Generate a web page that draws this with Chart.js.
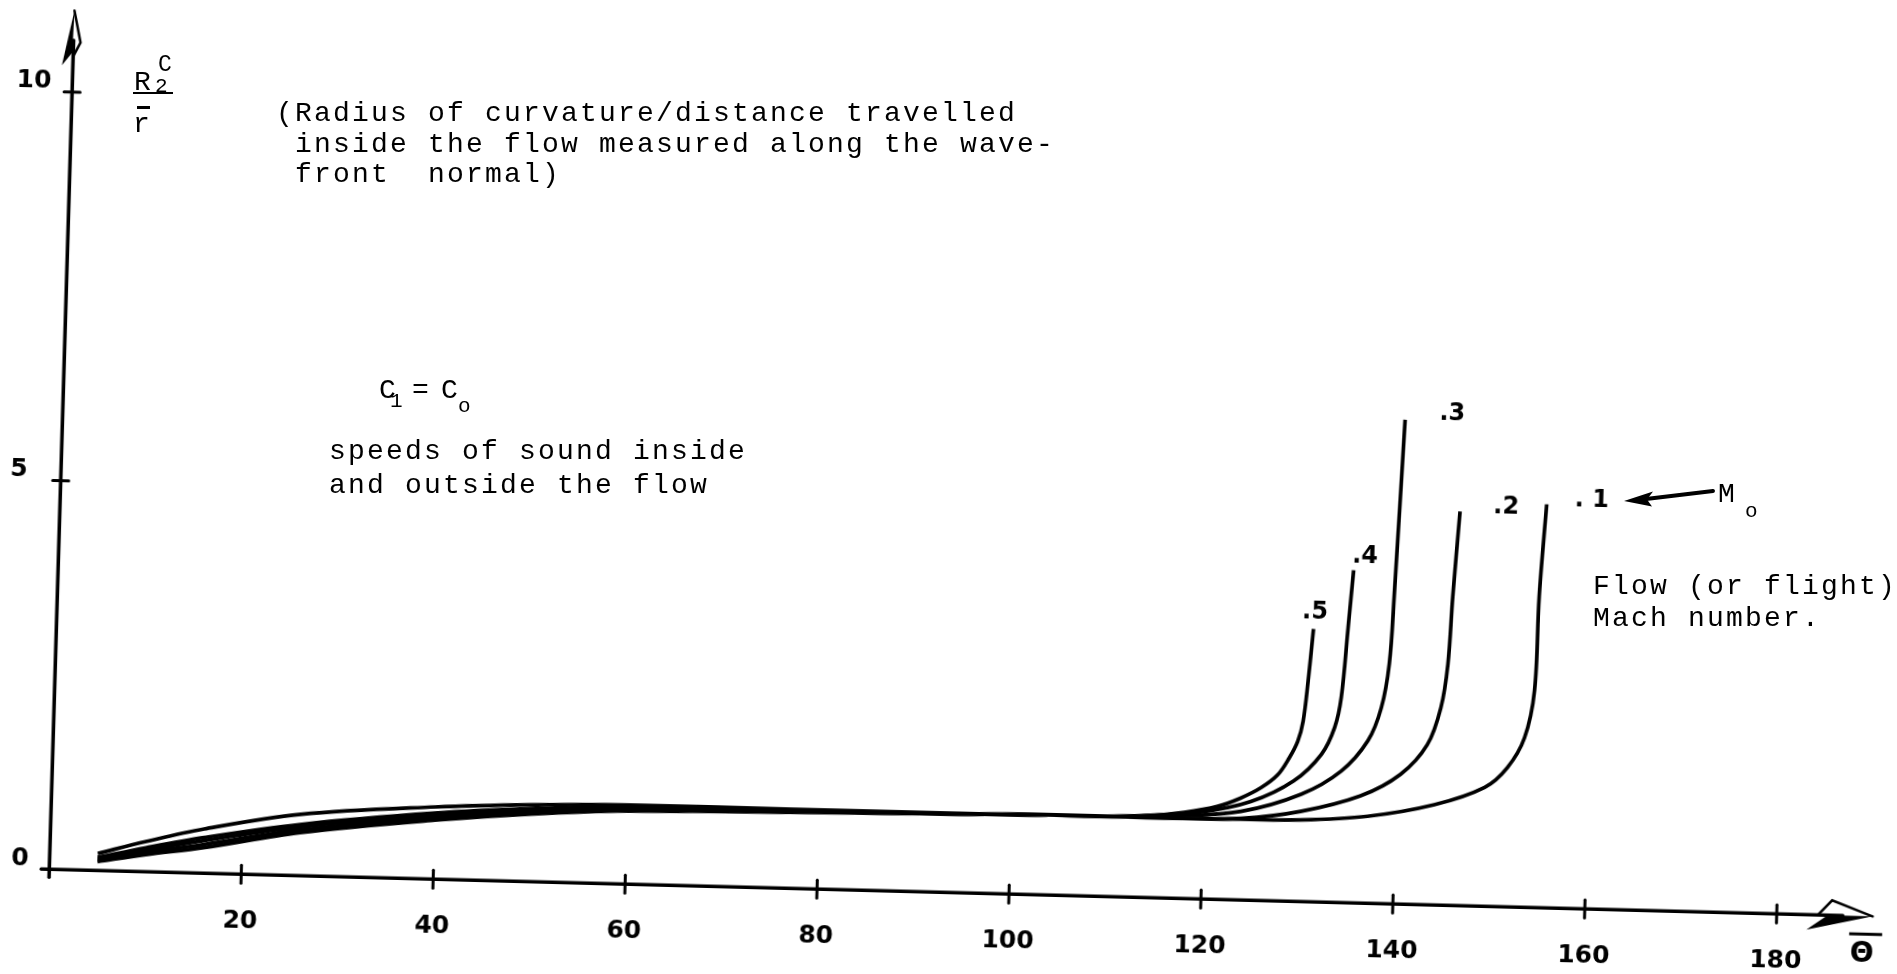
<!DOCTYPE html>
<html>
<head>
<meta charset="utf-8">
<title>Radius of curvature ratio against wavefront angle</title>
<script src="https://cdn.jsdelivr.net/npm/chart.js@4.4.1/dist/chart.umd.min.js"></script>
<style>
  html, body { margin: 0; padding: 0; background: #fff; overflow: hidden; }
  #page { position: relative; width: 1897px; height: 974px; background: #fff; overflow: hidden; }
  /* the hand-drawn axes sit slightly askew on the sheet */
  #plot { position: absolute; left: -60px; top: 0; width: 1957px; height: 974px;
          transform-origin: 109.3px 869.3px;
          transform: matrix(0.99967, 0.02583, -0.02932, 0.99957, 0, 0); }
  .tw { position: absolute; font-family: "Liberation Mono", monospace; font-size: 28px;
        line-height: 28px; letter-spacing: 2.2px; white-space: pre; color: #000; }
  .tw23 { position: absolute; font-family: "Liberation Mono", monospace; font-size: 23px;
          line-height: 23px; white-space: pre; color: #000; }
  .tw21 { position: absolute; font-family: "Liberation Mono", monospace; font-size: 21px;
          line-height: 21px; white-space: pre; color: #000; }
  .rule { position: absolute; background: #000; }
  svg { position: absolute; left: 0; top: 0; }
</style>
</head>
<body>
<div id="page">
  <canvas id="plot" width="1957" height="974"></canvas>

  <!-- y-axis quantity: R2^C over r-bar -->
  <div class="tw" style="left:134px; top:68.5px;">R</div>
  <div class="tw21" style="left:155px; top:75.9px;">2</div>
  <div class="tw23" style="left:158px; top:54.4px;">C</div>
  <div class="rule" style="left:133px; top:91.5px; width:40px; height:2.5px;"></div>
  <div class="rule" style="left:137px; top:105.5px; width:13px; height:3px;"></div>
  <div class="tw" style="left:133px; top:110.5px;">r</div>

  <div class="tw" style="left:276px; top:99.5px;">(Radius of curvature/distance travelled</div>
  <div class="tw" style="left:276px; top:130.5px;"> inside the flow measured along the wave-</div>
  <div class="tw" style="left:276px; top:160.5px;"> front  normal)</div>

  <div class="tw" style="left:379px; top:376.5px;">C</div>
  <div class="tw21" style="left:390px; top:391px;">1</div>
  <div class="tw" style="left:412px; top:376.5px;">=</div>
  <div class="tw" style="left:441px; top:376.5px;">C</div>
  <div class="tw21" style="left:458px; top:396px;">o</div>

  <div class="tw" style="left:329px; top:437.5px;">speeds of sound inside</div>
  <div class="tw" style="left:329px; top:471.5px;">and outside the flow</div>

  <div class="tw" style="left:1718px; top:480.5px;">M</div>
  <div class="tw21" style="left:1745px; top:501px;">o</div>
  <svg width="1897" height="974">
    <line x1="1713" y1="491" x2="1646" y2="499" stroke="#000" stroke-width="4" stroke-linecap="round"/>
    <polygon points="1624,501 1653,491.5 1647,499.5 1652,506.5" fill="#000"/>
  </svg>

  <div class="tw" style="left:1593px; top:572.5px;">Flow (or flight)</div>
  <div class="tw" style="left:1593px; top:604.5px;">Mach number.</div>
</div>

<script>
// Tick positions
const xTickValues = [20, 40, 60, 80, 100, 120, 140, 160, 180];
const yTickValues = [0, 5, 10];

// Flow Mach number labels
const machLabels = ['. 1', '.2', '.3', '.4', '.5'];

// Theta (degrees) and R2C / r-bar for each Mach number
const thetaM1 = [5, 10, 16, 26, 40, 50, 60, 77, 94, 104, 112, 118, 123.9, 130.1, 137.1, 144.0, 149.2, 151.5, 153.2, 154.1, 154.3, 154.8];
const ratioM1 = [0.115, 0.22, 0.33, 0.555, 0.76, 0.87, 0.94, 0.98, 1.01, 1.03, 1.03, 1.03, 1.04, 1.05, 1.12, 1.29, 1.53, 1.79, 2.18, 2.79, 4.00, 5.19];

const thetaM2 = [5, 10, 16, 26, 40, 50, 60, 77, 94, 104, 112, 118, 123.9, 130.1, 136.3, 140.4, 143.1, 144.4, 145.0, 145.3, 145.8];
const ratioM2 = [0.13, 0.25, 0.37, 0.59, 0.79, 0.90, 0.96, 0.99, 1.01, 1.03, 1.03, 1.03, 1.05, 1.16, 1.38, 1.67, 2.06, 2.54, 3.10, 3.97, 5.07];

const thetaM3 = [5, 10, 16, 26, 40, 50, 60, 77, 94, 104, 112, 117, 123.9, 130.1, 134.2, 136.9, 138.2, 138.9, 139.2, 139.8];
const ratioM3 = [0.15, 0.28, 0.42, 0.63, 0.82, 0.92, 0.98, 1.00, 1.01, 1.03, 1.03, 1.06, 1.14, 1.38, 1.69, 2.09, 2.52, 3.09, 3.95, 6.23];

const thetaM4 = [5, 10, 16, 26, 40, 50, 60, 77, 94, 104, 112, 119.7, 124.9, 129.3, 132.1, 133.4, 134.0, 134.5, 134.9];
const ratioM4 = [0.17, 0.31, 0.46, 0.66, 0.85, 0.94, 1.00, 1.01, 1.02, 1.03, 1.04, 1.12, 1.27, 1.55, 1.90, 2.25, 2.64, 3.54, 4.28];

const thetaM5 = [5, 10, 16, 26, 40, 50, 60, 77, 94, 104, 109.3, 114.5, 118.0, 121.4, 123.8, 125.9, 127.6, 128.75, 129.6, 130.1, 130.5, 130.9];
const ratioM5 = [0.22, 0.39, 0.57, 0.79, 0.93, 0.99, 1.02, 1.02, 1.02, 1.03, 1.03, 1.06, 1.11, 1.195, 1.31, 1.45, 1.62, 1.84, 2.06, 2.32, 2.84, 3.51];

const thetaSets = [thetaM1, thetaM2, thetaM3, thetaM4, thetaM5];
const ratioSets = [ratioM1, ratioM2, ratioM3, ratioM4, ratioM5];

// where each Mach label sits relative to the top of its curve (px)
const labelOffsets = [[45, -5], [46, -5], [47, -7], [11, -14], [1, -17]];

const datasets = thetaSets.map((thetas, i) => ({
  label: machLabels[i],
  data: thetas.map((t, j) => ({ x: t, y: ratioSets[i][j] })),
  borderColor: '#000',
  borderWidth: 3.7,
  pointRadius: 0,
  tension: 0.35,
  fill: false
}));

const tickFont = { family: 'DejaVu Sans', size: 25, weight: 'bold' };

function seg(ctx, x1, y1, x2, y2) {
  ctx.beginPath(); ctx.moveTo(x1, y1); ctx.lineTo(x2, y2); ctx.stroke();
}

// Axes with crossing ticks, half-filled arrowheads, theta-bar and Mach labels
const sketchAxes = {
  id: 'sketchAxes',
  afterDatasetsDraw(chart) {
    const { ctx, scales: { x, y } } = chart;
    const x0 = x.getPixelForValue(0), y0 = y.getPixelForValue(0);
    const xEnd = x.getPixelForValue(x.max), yEnd = y.getPixelForValue(y.max);
    ctx.save();
    ctx.strokeStyle = '#000';
    ctx.fillStyle = '#000';
    ctx.lineCap = 'round';
    ctx.lineJoin = 'miter';

    ctx.lineWidth = 3.6;
    seg(ctx, x0 - 8, y0, xEnd - 30, y0);
    seg(ctx, x0, y0 + 8, x0, yEnd + 30);

    ctx.lineWidth = 3;
    xTickValues.forEach(v => {
      const px = x.getPixelForValue(v);
      seg(ctx, px, y0 - 9, px, y0 + 9);
    });
    yTickValues.filter(v => v > 0).forEach(v => {
      const py = y.getPixelForValue(v);
      seg(ctx, x0 - 8, py, x0 + 8, py);
    });

    // x arrow: outlined upper barb, filled lower barb
    ctx.lineWidth = 2.5;
    ctx.beginPath();
    ctx.moveTo(xEnd, y0); ctx.lineTo(xEnd - 41, y0 - 15); ctx.lineTo(xEnd - 54, y0 - 1);
    ctx.stroke();
    ctx.beginPath();
    ctx.moveTo(xEnd, y0); ctx.lineTo(xEnd - 66, y0 + 15); ctx.lineTo(xEnd - 45, y0); ctx.closePath();
    ctx.fill();

    // y arrow: filled left barb, outlined right barb
    ctx.beginPath();
    ctx.moveTo(x0, yEnd); ctx.lineTo(x0 - 11, yEnd + 55); ctx.lineTo(x0 - 1, yEnd + 42); ctx.closePath();
    ctx.fill();
    ctx.beginPath();
    ctx.moveTo(x0, yEnd); ctx.lineTo(x0 + 7, yEnd + 32); ctx.lineTo(x0, yEnd + 46);
    ctx.stroke();

    // theta-bar at the end of the abscissa
    const tx = xEnd - 10, ty = y0 + 38;
    ctx.font = 'bold 28px "DejaVu Sans"';
    ctx.textAlign = 'center';
    ctx.textBaseline = 'middle';
    ctx.fillText('\u0398', tx, ty);
    ctx.lineWidth = 3;
    ctx.lineCap = 'butt';
    seg(ctx, tx - 13, ty - 20, tx + 20, ty - 20);

    // Mach number beside the top of each curve
    ctx.font = 'bold 24px "DejaVu Sans"';
    chart.data.datasets.forEach((ds, i) => {
      const pts = chart.getDatasetMeta(i).data;
      const top = pts[pts.length - 1];
      ctx.fillText(ds.label, top.x + labelOffsets[i][0], top.y + labelOffsets[i][1]);
    });
    ctx.restore();
  }
};

new Chart(document.getElementById('plot'), {
  type: 'line',
  data: { datasets },
  options: {
    responsive: false,
    devicePixelRatio: 1,
    animation: false,
    layout: { padding: { top: 10.16, right: 23.7, left: 0, bottom: 0 } },
    plugins: { legend: { display: false }, tooltip: { enabled: false } },
    scales: {
      x: {
        type: 'linear',
        min: 0,
        max: 190,
        grid: { display: false, drawTicks: false },
        border: { display: false },
        afterBuildTicks: s => { s.ticks = xTickValues.map(v => ({ value: v })); },
        afterFit: s => { s.height = 104.7; s.paddingLeft = 0; s.paddingRight = 0; },
        ticks: { color: '#000', font: tickFont, padding: 32, maxRotation: 0, autoSkip: false }
      },
      y: {
        type: 'linear',
        min: 0,
        max: 11.05,
        grid: { display: false, drawTicks: false },
        border: { display: false },
        afterBuildTicks: s => { s.ticks = yTickValues.map(v => ({ value: v })); },
        afterFit: s => { s.width = 109.3; s.paddingTop = 0; s.paddingBottom = 0; },
        ticks: {
          color: '#000', font: tickFont, padding: 21, labelOffset: -10, autoSkip: false,
          // the middle figure stands a little further out from the axis
          callback: v => (v === 5 ? '5\u2002' : String(v))
        }
      }
    }
  },
  plugins: [sketchAxes]
});
</script>
</body>
</html>
